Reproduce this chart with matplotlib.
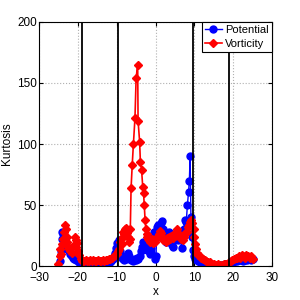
import matplotlib
matplotlib.use('Agg')
import matplotlib.pyplot as plt

plt.rcParams['font.family'] = ['Liberation Sans Narrow', 'Liberation Sans', 'DejaVu Sans']

# Potential (blue)
pot_x = [-24.6, -24.4, -24.2, -24.0, -23.8, -23.6, -23.3, -23.0, -22.7, -22.4,
         -22.1, -21.8, -21.5, -21.2, -20.9, -20.6, -20.3, -20.0, -19.7, -19.4,
         -19.0, -18.6, -18.1, -17.6, -17.1, -16.6, -16.1, -15.6, -15.1, -14.6,
         -14.1, -13.6, -13.1, -12.6, -12.2, -11.8, -11.4, -11.0, -10.7, -10.4,
         -10.1, -9.8, -9.5, -9.3, -9.1, -8.9, -8.6, -8.3, -8.0, -7.7,
         -7.4, -7.1, -6.8, -6.5, -6.2, -5.9, -5.6, -5.3, -5.0, -4.7,
         -4.4, -4.1, -3.8, -3.5, -3.2, -2.9, -2.6, -2.3, -2.0, -1.7,
         -1.4, -1.1, -0.8, -0.5, -0.2, 0.1, 0.4, 0.7, 1.0, 1.3,
         1.6, 1.9, 2.2, 2.5, 2.8, 3.1, 3.4, 3.7, 4.0, 4.3,
         4.6, 4.9, 5.2, 5.5, 5.8, 6.1, 6.4, 6.7, 7.0, 7.3,
         7.6, 7.9, 8.2, 8.5, 8.7, 8.9, 9.1, 9.3, 9.6, 9.9,
         10.2, 10.6, 11.0, 11.5, 12.0, 12.5, 13.0, 13.5, 14.0, 14.5,
         15.0, 15.5, 16.0, 16.5, 17.0, 17.5, 18.0, 18.5, 19.0, 19.5,
         20.0, 20.5, 21.0, 21.5, 22.0, 22.5, 23.0, 23.5, 24.0, 24.5, 25.0]
pot_y = [4, 12, 22, 28, 26, 22, 19, 16, 14, 12,
         10, 9, 8, 7, 6, 5, 5, 4, 3, 2,
         2, 1, 1, 2, 1, 1, 1, 2, 1, 1,
         1, 1, 2, 1, 2, 3, 4, 6, 8, 11,
         15, 19, 21, 17, 12, 9, 7, 6, 5, 6,
         8, 11, 8, 6, 5, 4, 5, 6, 5, 7,
         6, 8, 12, 16, 20, 17, 14, 13, 16, 12,
         10, 15, 24, 28, 6, 8, 32, 34, 30, 35,
         37, 30, 26, 22, 20, 24, 28, 22, 19, 17,
         16, 22, 27, 24, 21, 26, 22, 15, 24, 30,
         38, 36, 50, 61, 70, 90, 40, 24, 13, 8,
         6, 5, 4, 3, 3, 2, 2, 1, 1, 1,
         1, 1, 1, 1, 1, 1, 2, 2, 2, 3,
         3, 4, 4, 5, 5, 4, 5, 5, 6, 5, 6]

# Vorticity (red)
vor_x = [-25.0, -24.7, -24.5, -24.3, -24.0, -23.8, -23.5, -23.3, -23.1, -22.9,
         -22.7, -22.5, -22.3, -22.0, -21.7, -21.4, -21.1, -20.8, -20.6, -20.4,
         -20.1, -19.9, -19.6, -19.3, -19.0, -18.7, -18.4, -18.0, -17.6, -17.2,
         -16.8, -16.4, -16.0, -15.6, -15.2, -14.8, -14.4, -14.0, -13.6, -13.2,
         -12.8, -12.4, -12.0, -11.6, -11.2, -10.8, -10.4, -10.0, -9.7, -9.4,
         -9.2, -9.0, -8.7, -8.5, -8.3, -8.0, -7.8, -7.5, -7.3, -7.1,
         -6.9, -6.7, -6.5, -6.3, -6.0, -5.7, -5.3, -5.0, -4.6, -4.5,
         -4.1, -3.9, -3.6, -3.3, -3.1, -2.9, -2.7, -2.5, -2.3, -2.1,
         -1.9, -1.6, -1.3, -1.0, -0.7, -0.4, -0.1, 0.2, 0.5, 0.8,
         1.1, 1.4, 1.7, 2.0, 2.3, 2.6, 2.9, 3.2, 3.5, 3.8,
         4.1, 4.4, 4.7, 5.0, 5.3, 5.6, 5.9, 6.2, 6.5, 6.8,
         7.1, 7.4, 7.7, 8.0, 8.3, 8.6, 8.9, 9.2, 9.5, 9.8,
         10.0, 10.2, 10.4, 10.7, 11.0, 11.4, 11.8, 12.2, 12.6, 13.0,
         13.5, 14.0, 14.5, 15.0, 15.5, 16.0, 16.5, 17.0, 17.5, 18.0,
         18.5, 19.0, 19.4, 19.8, 20.2, 20.6, 21.0, 21.4, 21.8, 22.2,
         22.6, 23.0, 23.4, 23.8, 24.2, 24.6, 25.0]
vor_y = [2, 8, 14, 10, 18, 22, 28, 34, 30, 24,
         20, 16, 14, 12, 15, 11, 17, 24, 21, 16,
         19, 12, 9, 6, 4, 4, 4, 5, 4, 4,
         5, 4, 5, 4, 4, 5, 4, 4, 5, 4,
         5, 5, 6, 6, 7, 8, 9, 10, 12, 14,
         20, 22, 18, 24, 28, 26, 30, 31, 27, 24,
         20, 22, 30, 64, 83, 100, 121, 154, 165, 119,
         102, 85, 79, 65, 60, 50, 38, 30, 26, 24,
         22, 21, 20, 22, 19, 21, 20, 22, 24, 26,
         29, 27, 24, 21, 22, 20, 23, 21, 24, 22,
         25, 23, 26, 25, 28, 30, 27, 25, 22, 24,
         21, 24, 27, 28, 32, 34, 36, 38, 35, 30,
         24, 18, 14, 11, 9, 8, 7, 6, 5, 4,
         3, 3, 2, 2, 1, 2, 1, 1, 2, 2,
         2, 3, 4, 5, 6, 7, 7, 8, 7, 9,
         8, 7, 9, 8, 7, 8, 6]

region_edges = [-19.0, -9.6, 9.6, 18.9]

fig = plt.figure(figsize=(3, 3), dpi=100)
ax = fig.add_axes([0.13, 0.113, 0.777, 0.814])

ax.plot(pot_x, pot_y, color='#0000FF', marker='o', markersize=5,
        linewidth=1.0, label='Potential')
ax.plot(vor_x, vor_y, color='#FF0000', marker='D', markersize=4.5,
        linewidth=1.2, label='Vorticity')
for xe in region_edges:
    ax.axvline(xe, color='black', linewidth=1.3)

ax.set_xlim(-30, 30)
ax.set_ylim(0, 200)
ax.set_xticks([-30, -20, -10, 0, 10, 20, 30])
ax.set_yticks([0, 50, 100, 150, 200])
ax.grid(True, linestyle=':', color='#B0B0B0', linewidth=0.8)
ax.tick_params(direction='in', labelsize=8.5, length=3, top=True, right=True)
ax.tick_params(axis='y', pad=1.5)
ax.tick_params(axis='x', pad=4.5)
ax.set_xlabel('x', fontsize=8.5, labelpad=1)
ax.set_ylabel('Kurtosis', fontsize=8.5)
ax.yaxis.set_label_coords(-0.11, 0.5)

leg = ax.legend(loc='upper right', borderaxespad=0, fancybox=False,
                framealpha=1, edgecolor='black', fontsize=8,
                handlelength=1.5, handletextpad=0.3, borderpad=0.3,
                labelspacing=0.35)
leg.get_frame().set_linewidth(0.8)

fig.savefig('out.png', dpi=100)
